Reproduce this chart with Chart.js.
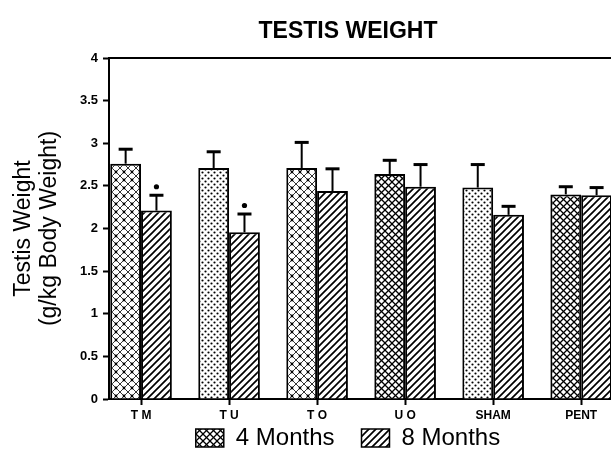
<!DOCTYPE html>
<html>
<head>
<meta charset="utf-8">
<title>Testis Weight</title>
<script src="https://cdn.jsdelivr.net/npm/chart.js@4.4.1/dist/chart.umd.min.js"></script>
<style>
    html, body { margin: 0; padding: 0; background: #fff; overflow: hidden; }
</style>
</head>
<body>
<canvas id="myChart" width="696" height="461"></canvas>
<script>
// values
var categories = ['T M', 'T U', 'T O', 'U O', 'SHAM', 'PENT'];
var months4 = [2.76, 2.71, 2.71, 2.64, 2.48, 2.40];
var err4 = [0.17, 0.19, 0.30, 0.16, 0.27, 0.09];
var months8 = [2.21, 1.955, 2.44, 2.49, 2.16, 2.39];
var err8 = [0.18, 0.215, 0.26, 0.26, 0.10, 0.09];
var signif8 = [true, true, false, false, false, false];
var yTicks = [0, 0.5, 1, 1.5, 2, 2.5, 3, 3.5, 4];
var yTickLabels = ['0', '0.5', '1', '1.5', '2', '2.5', '3', '3.5', '4'];
var seriesNames = ['4 Months', '8 Months'];

var FONT = "'Liberation Sans', Arial, Helvetica, sans-serif";
Chart.defaults.font.family = FONT;
Chart.defaults.color = '#000';

function makePattern(size, draw) {
    var c = document.createElement('canvas');
    c.width = size;
    c.height = size;
    var g = c.getContext('2d');
    g.fillStyle = '#fff';
    g.fillRect(0, 0, size, size);
    g.strokeStyle = '#000';
    g.fillStyle = '#000';
    draw(g, size);
    return g.createPattern(c, 'repeat');
}

function diag(g, s, up) {
    g.beginPath();
    if (up) {
        g.moveTo(0, s); g.lineTo(s, 0);
        g.moveTo(-1, 1); g.lineTo(1, -1);
        g.moveTo(s - 1, s + 1); g.lineTo(s + 1, s - 1);
    } else {
        g.moveTo(0, 0); g.lineTo(s, s);
        g.moveTo(-1, s - 1); g.lineTo(1, s + 1);
        g.moveTo(s - 1, -1); g.lineTo(s + 1, 1);
    }
    g.stroke();
}

var hatch = makePattern(7, function (g, s) {
    g.lineWidth = 1.7;
    diag(g, s, true);
});
var cross = makePattern(7, function (g, s) {
    g.lineWidth = 1.3;
    diag(g, s, true);
    diag(g, s, false);
});
var crossDot = makePattern(8, function (g, s) {
    g.lineWidth = 0.8;
    diag(g, s, true);
    diag(g, s, false);
    g.beginPath();
    g.arc(4, 4, 1.4, 0, Math.PI * 2);
    g.fill();
});
var dots = makePattern(6, function (g, s) {
    g.beginPath();
    g.arc(1.5, 1.5, 1.1, 0, Math.PI * 2);
    g.arc(4.5, 4.5, 1.1, 0, Math.PI * 2);
    g.fill();
});
var fill4 = [crossDot, dots, crossDot, cross, dots, cross];

// box around the plot (top and right sides)
var framePlugin = {
    id: 'frame',
    afterDraw: function (chart) {
        var a = chart.chartArea, ctx = chart.ctx;
        ctx.save();
        ctx.strokeStyle = '#000';
        ctx.lineWidth = 2;
        ctx.beginPath();
        ctx.moveTo(a.left, a.top);
        ctx.lineTo(a.right, a.top);
        ctx.lineTo(a.right, a.bottom);
        ctx.stroke();
        ctx.restore();
    }
};

// upward error bars and significance dots
var errorBarPlugin = {
    id: 'errorBars',
    afterDatasetsDraw: function (chart) {
        var ctx = chart.ctx, y = chart.scales.y;
        var vals = [months4, months8], errs = [err4, err8];
        ctx.save();
        ctx.strokeStyle = '#000';
        ctx.fillStyle = '#000';
        for (var d = 0; d < 2; d++) {
            chart.getDatasetMeta(d).data.forEach(function (bar, i) {
                var x = bar.x;
                var y0 = y.getPixelForValue(vals[d][i]);
                var y1 = y.getPixelForValue(vals[d][i] + errs[d][i]);
                ctx.lineWidth = 2;
                ctx.beginPath();
                ctx.moveTo(x, y0);
                ctx.lineTo(x, y1);
                ctx.stroke();
                ctx.lineWidth = 3;
                ctx.beginPath();
                ctx.moveTo(x - 7, y1);
                ctx.lineTo(x + 7, y1);
                ctx.stroke();
                if (d === 1 && signif8[i]) {
                    ctx.beginPath();
                    ctx.arc(x, y1 - 8.5, 2.6, 0, Math.PI * 2);
                    ctx.fill();
                }
            });
        }
        ctx.restore();
    }
};

var ctx = document.getElementById('myChart');
var chart = new Chart(ctx, {
    type: 'bar',
    data: {
        datasets: [{
                label: seriesNames[0],
                data: months4.map(function (v, i) { return {x: i, y: v}; }),
                backgroundColor: fill4,
                borderColor: '#000',
                borderWidth: 2
            }, {
                label: seriesNames[1],
                data: months8.map(function (v, i) { return {x: i, y: v}; }),
                backgroundColor: hatch,
                borderColor: '#000',
                borderWidth: 2
            }]
    },
    options: {
        responsive: false,
        animation: false,
        devicePixelRatio: 1,
        categoryPercentage: 0.70,
        barPercentage: 1.0,
        layout: {padding: {top: 0, left: 0, right: 0, bottom: 1}},
        plugins: {
            tooltip: {enabled: false},
            title: {
                display: true,
                text: 'TESTIS WEIGHT',
                color: '#000',
                font: {size: 23, weight: 'bold', lineHeight: 1.2},
                padding: {top: 18.2, bottom: 12.2}
            },
            legend: {
                position: 'bottom',
                labels: {
                    font: {size: 24},
                    color: '#000',
                    boxWidth: 28,
                    boxHeight: 18,
                    padding: 27,
                    generateLabels: function () {
                        return [
                            {text: seriesNames[0], fillStyle: cross, strokeStyle: '#000', lineWidth: 1.5, datasetIndex: 0},
                            {text: seriesNames[1], fillStyle: hatch, strokeStyle: '#000', lineWidth: 1.5, datasetIndex: 1}
                        ];
                    }
                }
            }
        },
        scales: {
            x: {
                type: 'linear',
                position: 'bottom',
                min: -0.364,
                max: 5.35,
                offset: false,
                grid: {display: true, offset: false, drawOnChartArea: false, drawTicks: true, tickLength: 6, tickColor: '#000', tickWidth: 2},
                border: {display: true, color: '#000', width: 2},
                ticks: {
                    color: '#000',
                    font: {size: 12, weight: 'bold'},
                    padding: 3,
                    maxRotation: 0,
                    autoSkip: false,
                    callback: function (v) { return categories[v]; }
                },
                afterBuildTicks: function (s) {
                    s.ticks = categories.map(function (c, i) { return {value: i}; });
                },
                afterFit: function (s) {
                    // legend sits right under the axis; let the labels draw outside the box
                    s.height = 0;
                    s._computeLabelArea = function () { return undefined; };
                }
            },
            y: {
                min: 0,
                max: 4,
                grid: {display: true, drawOnChartArea: false, drawTicks: true, tickLength: 6, tickColor: '#000', tickWidth: 2},
                border: {display: true, color: '#000', width: 2},
                ticks: {
                    color: '#000',
                    font: {size: 13, weight: 'bold'},
                    padding: 5,
                    callback: function (v, i) { return yTickLabels[i]; }
                },
                afterBuildTicks: function (s) {
                    s.ticks = yTicks.map(function (v) { return {value: v}; });
                },
                title: {
                    display: true,
                    text: ['Testis Weight', '(g/kg Body Weight)'],
                    color: '#000',
                    font: {size: 23, lineHeight: 1.15},
                    padding: {top: 10, bottom: 0}
                },
                afterFit: function (s) { s.width = 109; }
            },
            yRight: {
                type: 'linear',
                position: 'right',
                display: true,
                grid: {display: false},
                border: {display: false},
                ticks: {display: false},
                afterFit: function (s) { s.width = 84; }
            }
        }
    },
    plugins: [framePlugin, errorBarPlugin]
});
</script>
</body>
</html>
